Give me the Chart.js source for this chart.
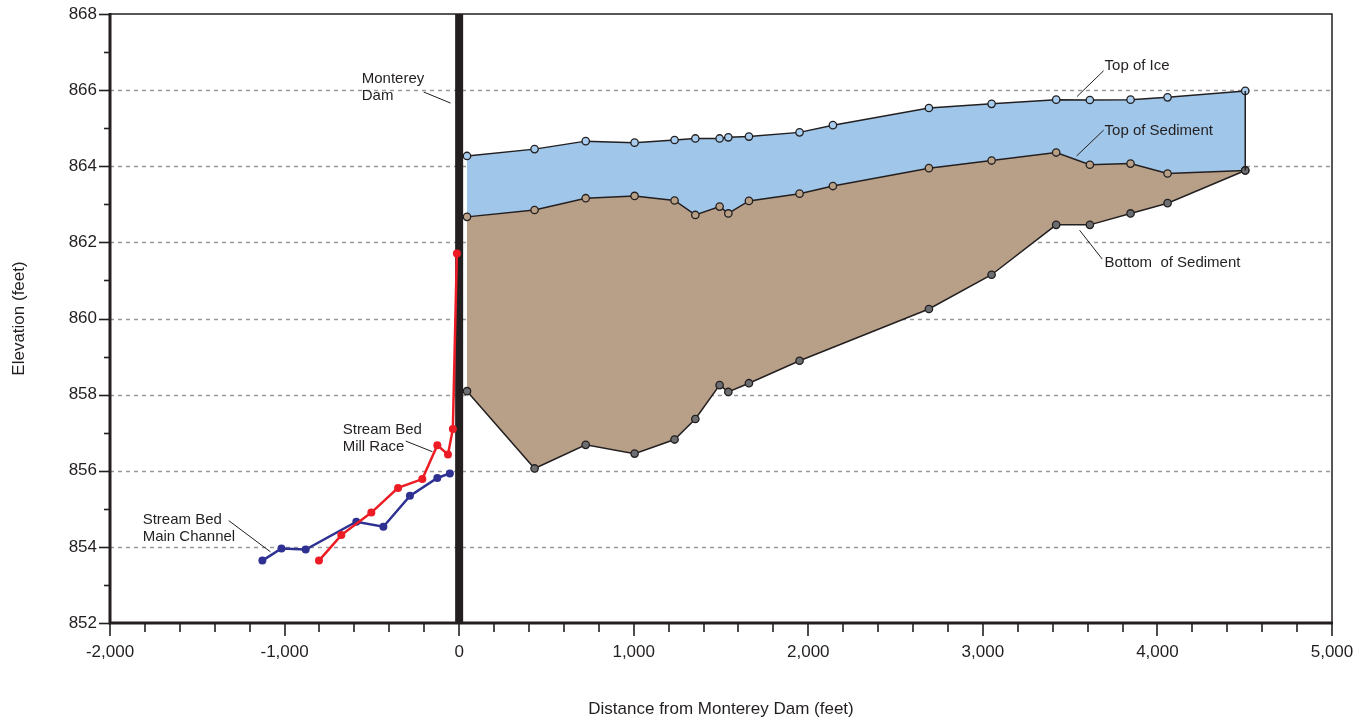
<!DOCTYPE html>
<html><head><meta charset="utf-8">
<script src="https://cdn.jsdelivr.net/npm/chart.js@4.4.1/dist/chart.umd.min.js"></script>
<style>html,body{margin:0;padding:0;background:#fff}#wrap{width:1372px;height:727px;position:relative}canvas{display:block}</style>
</head><body><div id="wrap"><canvas id="c" width="1372" height="727" style="width:1372px;height:727px"></canvas></div>
<script>
// ---- data ----
const distances = [45,432,725,1005,1234,1353,1492,1542,1660,1950,2141,2691,3050,3420,3613,3846,4058,4503];
const topOfIce = [864.27,864.45,864.66,864.62,864.69,864.73,864.73,864.76,864.78,864.89,865.08,865.53,865.64,865.75,865.74,865.75,865.81,865.98];
const topOfSediment = [862.67,862.85,863.16,863.22,863.10,862.72,862.94,862.76,863.09,863.28,863.48,863.95,864.15,864.36,864.04,864.07,863.81,863.89];
const bottomDistances = [45,432,725,1005,1234,1353,1492,1542,1660,1950,2691,3050,3420,3613,3846,4058,4503];
const bottomOfSediment = [858.09,856.06,856.68,856.45,856.82,857.36,858.25,858.07,858.30,858.89,860.25,861.15,862.46,862.46,862.76,863.03,863.89];
const mainChannelDist = [-1127,-1018,-879,-589,-434,-282,-125,-53];
const mainChannelElev = [853.64,853.96,853.93,854.66,854.53,855.34,855.81,855.93];
const millRaceDist = [-803,-675,-503,-350,-211,-125,-64,-36,-13];
const millRaceElev = [853.64,854.31,854.90,855.55,855.78,856.67,856.43,857.10,861.71];
const damDistance = 0;
const xMajorTicks = [-2000,-1000,0,1000,2000,3000,4000,5000];
const yMajorTicks = [852,854,856,858,860,862,864,866,868];
const xTitle = 'Distance from Monterey Dam (feet)';
const yTitle = 'Elevation (feet)';
const annotationTexts = [['Monterey','Dam'],['Top of Ice'],['Top of Sediment'],['Bottom  of Sediment'],['Stream Bed','Mill Race'],['Stream Bed','Main Channel']];

// ---- annotation placement (data coordinates) ----
const annotationPlaces = [
  {x:-558, y:866.29, from:[-203,865.95], to:[-49,865.66]},
  {x:3697, y:866.63, from:[3692,866.51], to:[3539,865.83]},
  {x:3697, y:864.93, from:[3692,864.95], to:[3537,864.27]},
  {x:3697, y:861.46, from:[3554,862.32], to:[3684,861.56]},
  {x:-667, y:857.07, from:[-306,856.78], to:[-153,856.50]},
  {x:-1813, y:854.71, from:[-1320,854.69], to:[-1081,853.87]}
];

const INK = '#231f20';
const FONT = "'Liberation Sans', Arial, Helvetica, sans-serif";
const pts = (xs, ys) => xs.map((x, i) => ({x, y: ys[i]}));

const isMajorX = v => xMajorTicks.includes(Math.round(v));
const isMajorY = v => yMajorTicks.includes(Math.round(v * 100) / 100);

const decorPlugin = {
  id: 'decor',
  beforeDatasetsDraw(chart) {
    const {ctx, chartArea: a, scales: {x, y}} = chart;
    ctx.save();
    ctx.strokeStyle = '#98999b';
    ctx.lineWidth = 1.5;
    ctx.setLineDash([4, 4]);
    yMajorTicks.forEach(v => {
      if (v === y.min || v === y.max) return;
      const py = Math.round(y.getPixelForValue(v)) + 0.5;
      ctx.beginPath(); ctx.moveTo(a.left, py); ctx.lineTo(a.right, py); ctx.stroke();
    });
    ctx.setLineDash([]);
    const dx = x.getPixelForValue(damDistance);
    ctx.fillStyle = INK;
    ctx.fillRect(dx - 4, a.top, 8, a.bottom - a.top);
    ctx.restore();
  },
  afterDatasetsDraw(chart) {
    const {ctx, chartArea: a, scales: {x, y}} = chart;
    ctx.save();
    ctx.strokeStyle = INK;
    ctx.lineWidth = 1.5;
    ctx.beginPath(); ctx.moveTo(a.left, a.top); ctx.lineTo(a.right, a.top); ctx.lineTo(a.right, a.bottom); ctx.stroke();
    ctx.lineWidth = 3;
    ctx.beginPath(); ctx.moveTo(a.left, a.top - 1); ctx.lineTo(a.left, a.bottom); ctx.lineTo(a.right + 1, a.bottom); ctx.stroke();
    ctx.lineWidth = 1.6;
    x.ticks.forEach(t => {
      const px = Math.round(x.getPixelForValue(t.value));
      const len = isMajorX(t.value) ? 13 : 9;
      ctx.beginPath(); ctx.moveTo(px, a.bottom); ctx.lineTo(px, a.bottom + len); ctx.stroke();
    });
    y.ticks.forEach(t => {
      const py = Math.round(y.getPixelForValue(t.value)) + 0.5;
      const len = isMajorY(t.value) ? 11 : 6;
      ctx.beginPath(); ctx.moveTo(a.left, py); ctx.lineTo(a.left - len, py); ctx.stroke();
    });
    ctx.restore();
  },
  afterDraw(chart) {
    const {ctx, scales: {x, y}} = chart;
    ctx.save();
    ctx.fillStyle = INK;
    ctx.strokeStyle = INK;
    ctx.lineWidth = 1;
    ctx.font = '15px ' + FONT;
    ctx.textBaseline = 'middle';
    ctx.textAlign = 'left';
    annotationPlaces.forEach((p, i) => {
      const tx = x.getPixelForValue(p.x), ty = y.getPixelForValue(p.y);
      annotationTexts[i].forEach((line, j) => ctx.fillText(line, tx, ty + j * 17));
      ctx.beginPath();
      ctx.moveTo(x.getPixelForValue(p.from[0]), y.getPixelForValue(p.from[1]));
      ctx.lineTo(x.getPixelForValue(p.to[0]), y.getPixelForValue(p.to[1]));
      ctx.stroke();
    });
    ctx.restore();
  }
};

const lastI = distances.length - 1;

new Chart(document.getElementById('c'), {
  type: 'line',
  data: {
    datasets: [
      { label: 'Top of Ice', data: pts(distances, topOfIce), order: 6,
        borderColor: INK, borderWidth: 1.5, backgroundColor: '#a0c6e9',
        fill: '+1', pointRadius: 3.7, pointBackgroundColor: '#a8cdee', pointBorderColor: INK, pointBorderWidth: 1.3 },
      { label: 'Top of Sediment', data: pts(distances, topOfSediment), order: 5,
        borderColor: INK, borderWidth: 1.5, backgroundColor: '#b8a088',
        fill: '+1', pointRadius: 3.7, pointBackgroundColor: '#b9a187', pointBorderColor: INK, pointBorderWidth: 1.3 },
      { label: 'Bottom of Sediment', data: pts(bottomDistances, bottomOfSediment), order: 4,
        borderColor: INK, borderWidth: 1.5, fill: false,
        pointRadius: 3.7, pointBackgroundColor: '#6d6e71', pointBorderColor: INK, pointBorderWidth: 1.3 },
      { label: 'edge', data: [{x: distances[lastI], y: topOfIce[lastI]}, {x: distances[lastI], y: topOfSediment[lastI]}], order: 3,
        borderColor: INK, borderWidth: 1.5, fill: false, pointRadius: 0 },
      { label: 'Stream Bed Main Channel', data: pts(mainChannelDist, mainChannelElev), order: 2,
        borderColor: '#2e3192', borderWidth: 2.5, fill: false,
        pointRadius: 4, pointBackgroundColor: '#2e3192', pointBorderColor: '#2e3192', pointBorderWidth: 0 },
      { label: 'Stream Bed Mill Race', data: pts(millRaceDist, millRaceElev), order: 1,
        borderColor: '#ed1c24', borderWidth: 2.5, fill: false,
        pointRadius: 4, pointBackgroundColor: '#ed1c24', pointBorderColor: '#ed1c24', pointBorderWidth: 0 }
    ]
  },
  options: {
    responsive: false,
    animation: false,
    devicePixelRatio: 1,
    layout: { padding: { left: 0, top: 14, right: 40, bottom: 0 } },
    plugins: { legend: { display: false }, tooltip: { enabled: false } },
    elements: { line: { tension: 0 } },
    scales: {
      x: {
        type: 'linear', min: -2000, max: 5000,
        grid: { display: false, drawTicks: true, tickLength: 13 },
        border: { display: false },
        ticks: {
          stepSize: 200, autoSkip: false, maxRotation: 0, padding: 6,
          color: INK, font: { family: FONT, size: 17 },
          callback: v => isMajorX(v) ? Math.round(v).toLocaleString('en-US') : ''
        },
        title: { display: true, text: xTitle, color: INK, font: { family: FONT, size: 17 }, padding: { top: 0, bottom: 7 } },
        afterFit: s => { s.height = 104; s.paddingLeft = 0; s.paddingRight = 0; }
      },
      y: {
        type: 'linear', min: 852, max: 868,
        grid: { display: false, drawTicks: true, tickLength: 11 },
        border: { display: false },
        ticks: {
          stepSize: 1, autoSkip: false, padding: 2,
          color: INK, font: { family: FONT, size: 17 },
          callback: v => isMajorY(v) ? String(Math.round(v)) : ''
        },
        title: { display: true, text: yTitle, color: INK, font: { family: FONT, size: 17 }, padding: { top: 9, bottom: 0 } },
        afterFit: s => { s.width = 110; s.paddingTop = 0; s.paddingBottom = 0; }
      }
    }
  },
  plugins: [decorPlugin]
});
</script>
</body></html>
